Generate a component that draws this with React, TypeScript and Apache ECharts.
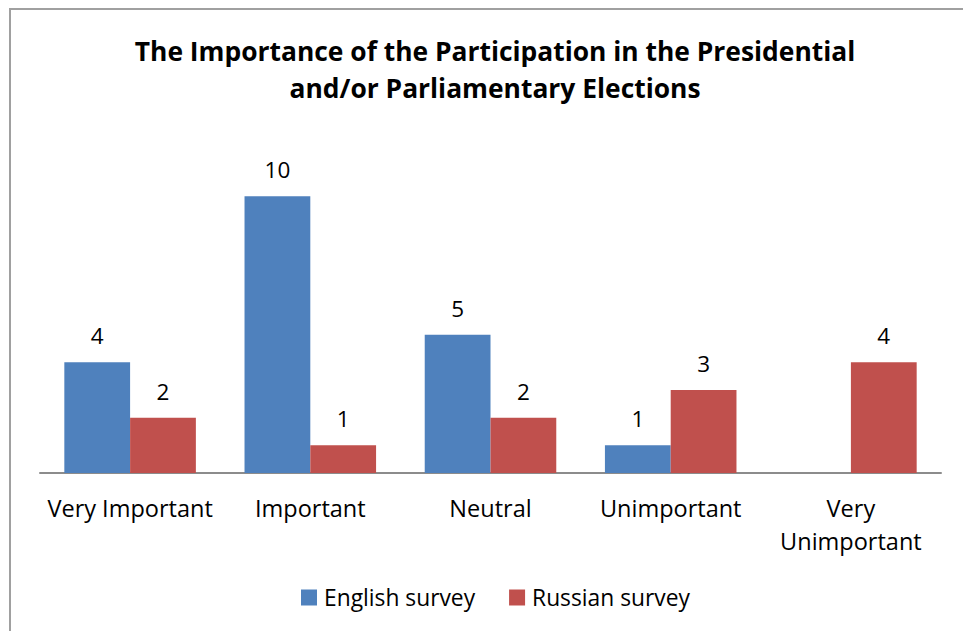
import React, { useEffect, useRef } from "react";
import * as echarts from "echarts";

const categories = ["Very Important", "Important", "Neutral", "Unimportant", "Very Unimportant"];
const englishSurvey: (number | null)[] = [4, 10, 5, 1, null];
const russianSurvey: (number | null)[] = [2, 1, 2, 3, 4];
const seriesNames = ["English survey", "Russian survey"];
const titleText = "The Importance of the Participation in the Presidential\nand/or Parliamentary Elections";

const FONT = "'Open Sans', sans-serif";

export default function App() {
  const ref = useRef<HTMLDivElement>(null);
  useEffect(() => {
    if (!ref.current) return;
    const chart = echarts.init(ref.current, null, { renderer: "svg" });
    const labelStyle = {
      show: true,
      position: "top" as const,
      distance: 15,
      fontFamily: FONT,
      fontSize: 22.5,
      color: "#000",
    };
    chart.setOption({
      animation: false,
      backgroundColor: "#fff",
      textStyle: { fontFamily: FONT },
      title: {
        text: titleText,
        left: 490,
        textAlign: "center",
        top: 27,
        textStyle: {
          fontFamily: FONT,
          fontSize: 26.4,
          fontWeight: "bold",
          color: "#000",
          lineHeight: 37,
        },
      },
      graphic: [
        {
          type: "rect",
          shape: { x: 10, y: 9, width: 1000, height: 700 },
          style: { fill: "none", stroke: "#a0a0a0", lineWidth: 2 },
          silent: true,
        },
      ],
      grid: { left: 40, right: 22, top: 141, bottom: 158 },
      legend: {
        data: seriesNames,
        bottom: 22,
        left: 301,
        padding: 0,
        itemWidth: 16,
        itemHeight: 16,
        itemGap: 34,
        icon: "rect",
        textStyle: { fontFamily: FONT, fontSize: 22.8, color: "#000", padding: [0, 0, 0, 2] },
      },
      xAxis: {
        type: "category",
        data: categories,
        axisLine: { lineStyle: { color: "#8c8c8c", width: 2 } },
        axisTick: { show: false },
        axisLabel: {
          fontFamily: FONT,
          fontSize: 23.5,
          color: "#000",
          margin: 18,
          lineHeight: 33,
          interval: 0,
          formatter: (v: string) => (v === "Very Unimportant" ? "Very\nUnimportant" : v),
        },
      },
      yAxis: {
        type: "value",
        min: 0,
        max: 12,
        interval: 2,
        show: false,
        splitLine: { show: false },
      },
      series: [
        {
          name: seriesNames[0],
          type: "bar",
          data: englishSurvey,
          itemStyle: { color: "#4F81BD" },
          barGap: "0%",
          barCategoryGap: "27%",
          label: labelStyle,
        },
        {
          name: seriesNames[1],
          type: "bar",
          data: russianSurvey,
          itemStyle: { color: "#C0504D" },
          label: labelStyle,
        },
      ],
    });
    return () => chart.dispose();
  }, []);
  return (
    <div
      ref={ref}
      style={{ position: "absolute", left: 0, top: 0, width: 963, height: 631 }}
    />
  );
}
